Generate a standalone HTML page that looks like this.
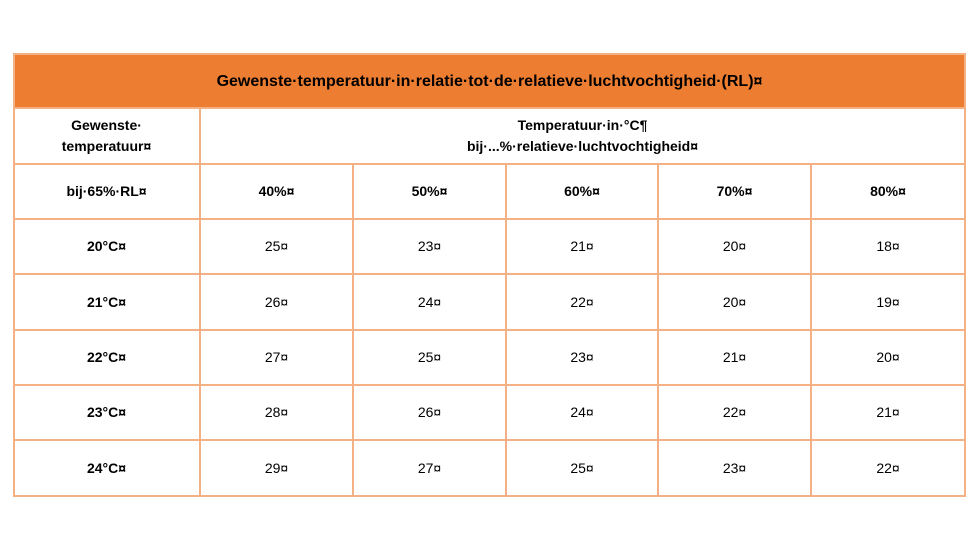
<!DOCTYPE html>
<html><head><meta charset="utf-8"><style>
body{margin:0;width:978px;height:551px;background:#fff;position:relative;overflow:hidden;font-family:"Liberation Sans",sans-serif;color:#000}
.c{position:absolute;box-sizing:border-box;display:flex;align-items:center;justify-content:center;text-align:center;font-size:14px;line-height:21px}
.b{font-weight:bold}
.vl{position:absolute;width:2px;background:#f4b183}
.hl{position:absolute;height:2px;background:#f4b183}
</style></head><body>
<div style="position:absolute;left:13px;top:53px;width:953px;height:444px;border:2px solid #f4b183;box-sizing:border-box"></div>
<div class="c b" style="left:15px;top:55px;width:949px;height:53px;background:#ed7d31;font-size:16px">Gewenste·temperatuur·in·relatie·tot·de·relatieve·luchtvochtigheid·(RL)¤</div>
<div id="grid"></div>
<script>
const colEdges=[13,200,353,506,658,811,965];
const rowEdges=[108,164,219,274,330,385,440,496];
const humidity=["40%¤","50%¤","60%¤","70%¤","80%¤"];
const desired=["20°C¤","21°C¤","22°C¤","23°C¤","24°C¤"];
const values=[[25,23,21,20,18],[26,24,22,20,19],[27,25,23,21,20],[28,26,24,22,21],[29,27,25,23,22]];
const g=document.getElementById('grid');
function cell(x0,x1,y0,y1,html,bold,name){
 const d=document.createElement('div');d.className='c'+(bold?' b':'');
 d.style.left=x0+'px';d.style.top=y0+'px';d.style.width=(x1-x0)+'px';d.style.height=(y1-y0)+'px';
 d.innerHTML=html;
 
 
 g.appendChild(d);
}
// horizontal lines
rowEdges.slice(0,-1).forEach(y=>{const l=document.createElement('div');l.className='hl';l.style.left='13px';l.style.top=(y-1)+'px';l.style.width='953px';


g.appendChild(l);});
// vertical lines
colEdges.slice(1,-1).forEach((x,i)=>{const l=document.createElement('div');l.className='vl';l.style.left=(x-1)+'px';
const top=i===0?108:164;l.style.top=top+'px';l.style.height=(496-top)+'px';


g.appendChild(l);});
cell(13,200,108,164,'Gewenste·<br>temperatuur¤',true,'desired-temp-header');
cell(200,965,108,164,'Temperatuur·in·°C¶<br>bij·...%·relatieve·luchtvochtigheid¤',true,'temp-header');
cell(13,200,164,219,'bij·65%·RL¤',true,'rl-header');
humidity.forEach((h,i)=>cell(colEdges[i+1],colEdges[i+2],164,219,h,true,'humidity-'+h.replace(/\D/g,'')));
desired.forEach((t,r)=>{
 cell(13,200,rowEdges[r+2],rowEdges[r+3],t,true,'desired-'+t.replace(/\D/g,''));
 values[r].forEach((v,c)=>cell(colEdges[c+1],colEdges[c+2],rowEdges[r+2],rowEdges[r+3],v+'¤',false,'value-cell'));
});
</script>
</body></html>
